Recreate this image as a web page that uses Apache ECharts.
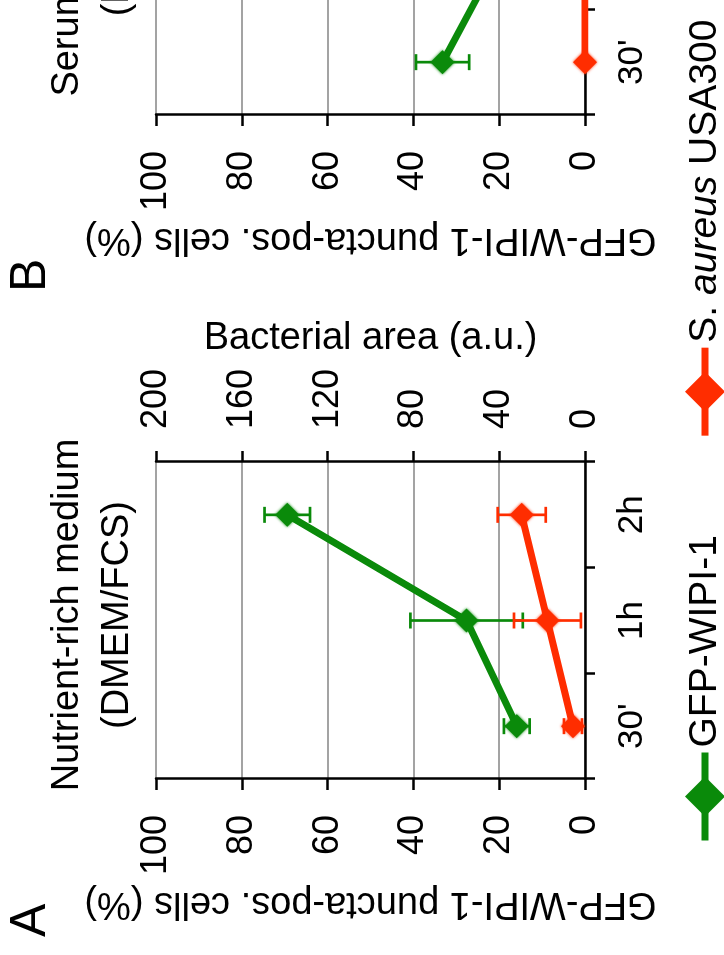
<!DOCTYPE html>
<html>
<head>
<meta charset="utf-8">
<script src="https://cdn.jsdelivr.net/npm/echarts@6/dist/echarts.min.js"></script>
<style>
  html, body { margin: 0; padding: 0; background: #fff; overflow: hidden; }
  #page { position: relative; width: 724px; height: 955px; overflow: hidden; background: #fff; }
  /* the figure is laid out landscape and turned a quarter turn counter-clockwise */
  #chart { position: absolute; left: 0; top: 0; width: 955px; height: 724px;
           transform-origin: 0 0; transform: translate(0, 955px) rotate(-90deg); }
</style>
</head>
<body>
<div id="page"><div id="chart"></div></div>
<script>
// time points after infection
const timePoints = ["30'", "1h", "2h"];

// panel A: nutrient-rich medium (DMEM/FCS)
const wipiRich     = [15.9, 27.6, 69.4];   // GFP-WIPI-1 puncta-positive cells (%)
const wipiRichSd   = [3.0, 13.1, 5.3];
const bactRich     = [5.6, 17.5, 29.5];    // bacterial area (a.u.)
const bactRichSd   = [4.2, 15.6, 11.2];

// panel B: serum starvation (EBSS)
const wipiSerum    = [33.2, 20.0, null];
const wipiSerumSd  = [6.2, null, null];
const bactSerum    = [0, 0, null];
const bactSerumSd  = [null, null, null];

const seriesNames  = ['GFP-WIPI-1', 'S. aureus USA300'];

const FONT = '"Liberation Sans", Arial, Helvetica, sans-serif';
const GREEN = '#0a8a0a';
const RED = '#ff2d00';

function errorRows(mean, sd) {
  const rows = [];
  mean.forEach((m, i) => {
    if (m != null && sd[i] != null) rows.push([i, m - sd[i], m + sd[i]]);
  });
  return rows;
}

function lineSeries(name, color, values, axisIdx, yIdx) {
  return {
    type: 'line', name: name, xAxisIndex: axisIdx, yAxisIndex: yIdx,
    data: values, symbol: 'diamond', symbolSize: 24, z: 3,
    lineStyle: { color: color, width: 7 },
    itemStyle: { color: color, shadowBlur: 3, shadowColor: color },
    emphasis: { disabled: true }, silent: true
  };
}

function errorSeries(color, rows, axisIdx, yIdx) {
  return {
    type: 'custom', xAxisIndex: axisIdx, yAxisIndex: yIdx, data: rows, z: 2, silent: true,
    encode: { x: 0, y: [1, 2] },
    renderItem: function (params, api) {
      const lo = api.coord([api.value(0), api.value(1)]);
      const hi = api.coord([api.value(0), api.value(2)]);
      const h = 8;
      const st = { stroke: color, lineWidth: 2.7 };
      return {
        type: 'group', children: [
          { type: 'line', shape: { x1: lo[0], y1: lo[1], x2: hi[0], y2: hi[1] }, style: st },
          { type: 'line', shape: { x1: lo[0] - h, y1: lo[1], x2: lo[0] + h, y2: lo[1] }, style: st },
          { type: 'line', shape: { x1: hi[0] - h, y1: hi[1], x2: hi[0] + h, y2: hi[1] }, style: st }
        ]
      };
    }
  };
}

const axisLineStyle = { color: '#000', width: 2.5 };

function categoryAxis(gridIndex) {
  return {
    type: 'category', gridIndex: gridIndex, data: timePoints, boundaryGap: true,
    axisLine: { show: true, lineStyle: axisLineStyle },
    axisTick: { show: true, length: 10, lineStyle: axisLineStyle },
    axisLabel: { fontSize: 35, color: '#000', fontFamily: FONT, margin: 30 },
    splitLine: { show: false }
  };
}

function percentAxis(gridIndex) {
  return {
    type: 'value', gridIndex: gridIndex, position: 'left', min: 0, max: 100, interval: 20,
    name: 'GFP-WIPI-1 puncta-pos. cells (%)', nameLocation: 'middle', nameGap: 105, nameRotate: 90,
    nameTextStyle: { fontSize: 38, color: '#000', fontFamily: FONT },
    axisLine: { show: true, lineStyle: axisLineStyle },
    axisTick: { show: true, length: 11, lineStyle: axisLineStyle },
    axisLabel: { fontSize: 36, color: '#000', fontFamily: FONT, margin: 36 },
    splitLine: { show: true, lineStyle: { color: '#a3a3a3', width: 2 } }
  };
}

function areaAxis(gridIndex) {
  return {
    type: 'value', gridIndex: gridIndex, position: 'right', min: 0, max: 200, interval: 40,
    name: 'Bacterial area (a.u.)', nameLocation: 'middle', nameGap: 104, nameRotate: -90,
    nameTextStyle: { fontSize: 38, color: '#000', fontFamily: FONT },
    axisLine: { show: true, lineStyle: axisLineStyle },
    axisTick: { show: true, length: 11, lineStyle: axisLineStyle },
    axisLabel: { fontSize: 36, color: '#000', fontFamily: FONT, margin: 33 },
    splitLine: { show: false }
  };
}

const chart = echarts.init(document.getElementById('chart'), null, { renderer: 'canvas' });

chart.setOption({
  animation: false,
  backgroundColor: '#fff',
  grid: [
    { left: 176, top: 156, width: 317, height: 429, containLabel: false, outerBoundsMode: 'none' },
    { left: 840, top: 156, width: 317, height: 429, containLabel: false, outerBoundsMode: 'none' }
  ],
  xAxis: [categoryAxis(0), categoryAxis(1)],
  yAxis: [percentAxis(0), areaAxis(0), percentAxis(1), areaAxis(1)],
  legend: {
    data: seriesNames, orient: 'horizontal', left: 111, top: 685, padding: 0,
    itemWidth: 88, itemHeight: 50, itemGap: 96,
    selectedMode: false,
    lineStyle: { width: 7 },
    textStyle: {
      fontSize: 39, color: '#000', fontFamily: FONT,
      rich: {
        n: { fontSize: 39, color: '#000', fontFamily: FONT },
        i: { fontSize: 39, color: '#000', fontFamily: FONT, fontStyle: 'italic' }
      }
    },
    formatter: function (name) {
      if (name === seriesNames[1]) return '{n|S. }{i|aureus}{n| USA300}';
      return name;
    }
  },
  graphic: [
    { type: 'text', x: 18, y: 31, silent: true,
      style: { text: 'A', fontSize: 50, fontFamily: FONT, fill: '#000', align: 'left', verticalAlign: 'middle' } },
    { type: 'text', x: 663, y: 31, silent: true,
      style: { text: 'B', fontSize: 50, fontFamily: FONT, fill: '#000', align: 'left', verticalAlign: 'middle' } },
    { type: 'text', x: 340, y: 43, silent: true,
      style: { text: 'Nutrient-rich medium\n(DMEM/FCS)', fontSize: 38, fontFamily: FONT, fill: '#000',
               align: 'center', verticalAlign: 'top', lineHeight: 50 } },
    { type: 'text', x: 1002, y: 43, silent: true,
      style: { text: 'Serum starvation\n(EBSS)', fontSize: 38, fontFamily: FONT, fill: '#000',
               align: 'center', verticalAlign: 'top', lineHeight: 50 } }
  ],
  series: [
    errorSeries(GREEN, errorRows(wipiRich, wipiRichSd), 0, 0),
    errorSeries(RED, errorRows(bactRich, bactRichSd), 0, 1),
    lineSeries(seriesNames[0], GREEN, wipiRich, 0, 0),
    lineSeries(seriesNames[1], RED, bactRich, 0, 1),
    errorSeries(GREEN, errorRows(wipiSerum, wipiSerumSd), 1, 2),
    errorSeries(RED, errorRows(bactSerum, bactSerumSd), 1, 3),
    lineSeries(seriesNames[0], GREEN, wipiSerum, 1, 2),
    lineSeries(seriesNames[1], RED, bactSerum, 1, 3)
  ]
});
</script>
</body>
</html>
